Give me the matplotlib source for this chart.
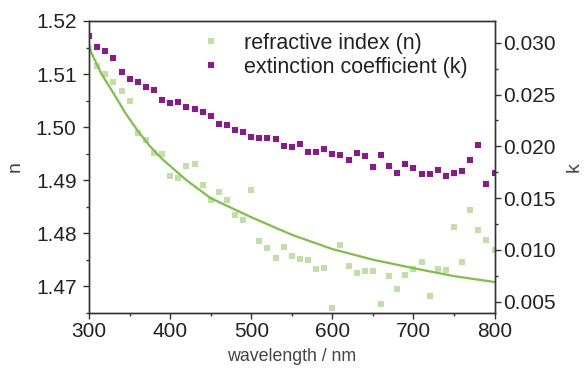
import matplotlib
matplotlib.use('Agg')
import matplotlib.pyplot as plt
from matplotlib.ticker import MultipleLocator

plt.rcParams['font.family'] = ['Liberation Sans', 'DejaVu Sans']

# wavelength grid of the measured points (nm)
wl = list(range(300, 801, 10))

# refractive index n (light green squares)
n_pts = [1.5150, 1.5115, 1.5101, 1.5085, 1.5068, 1.5050, 1.4989, 1.4975, 1.4951, 1.4950,
         1.4907, 1.4904, 1.4926, 1.4931, 1.4891, 1.4863, 1.4878, 1.4863, 1.4835, 1.4825,
         1.4881, 1.4785, 1.4772, 1.4753, 1.4774, 1.4757, 1.4752, 1.4750, 1.4733, 1.4735,
         1.4659, 1.4778, 1.4739, 1.4724, 1.4728, 1.4729, 1.4666, 1.4719, 1.4695, 1.4722,
         1.4732, 1.4745, 1.4681, 1.4732, 1.4731, 1.4812, 1.4745, 1.4843, 1.4806, 1.4788,
         1.4768]

# extinction coefficient k (purple squares)
k_pts = [0.0307, 0.0296, 0.0292, 0.0285, 0.0272, 0.0265, 0.0262, 0.0257, 0.0254, 0.0245,
         0.0242, 0.0243, 0.0238, 0.0236, 0.0233, 0.0229, 0.0222, 0.0221, 0.0216, 0.0214,
         0.0209, 0.0208, 0.0208, 0.0207, 0.0200, 0.0199, 0.0202, 0.0195, 0.0195, 0.0197,
         0.0193, 0.0192, 0.0187, 0.0194, 0.0191, 0.0180, 0.0192, 0.0181, 0.0174, 0.0183,
         0.0179, 0.0173, 0.0173, 0.0177, 0.0171, 0.0174, 0.0176, 0.0187, 0.0201, 0.0164,
         0.0174]

# fitted n curve
wl_fit = [300, 315, 330, 345, 360, 375, 390, 420, 450, 500, 550, 600, 650, 700, 750, 800]
n_fit = [1.5149, 1.5101, 1.5064, 1.5026, 1.4993, 1.4964, 1.4940, 1.4900, 1.4866, 1.4830,
         1.4797, 1.4770, 1.4750, 1.4734, 1.4719, 1.4708]

c_k = '#8e1690'
c_n = '#bfe0a6'
c_line = '#7cc142'
c_ax = '#333333'

fig = plt.figure(figsize=(5.86, 3.75), dpi=100)
ax = fig.add_axes([0.152, 0.166, 0.692, 0.778])
ax2 = ax.twinx()

ax.plot(wl, n_pts, 's', color=c_n, ms=5, mew=0, label='refractive index (n)')
ax.plot(wl_fit, n_fit, '-', color=c_line, lw=1.6)
ax2.plot(wl, k_pts, 's', color=c_k, ms=5, mew=0, label='extinction coefficient (k)')

ax.set_xlim(300, 800)
ax.set_ylim(1.465, 1.52)
ax2.set_ylim(0.00394, 0.0321)

ax.xaxis.set_major_locator(MultipleLocator(100))
ax.xaxis.set_minor_locator(MultipleLocator(50))
ax.yaxis.set_major_locator(MultipleLocator(0.01))
ax.yaxis.set_minor_locator(MultipleLocator(0.005))
ax2.yaxis.set_major_locator(MultipleLocator(0.005))
ax2.yaxis.set_minor_locator(MultipleLocator(0.0025))
ax.yaxis.set_major_formatter(plt.FormatStrFormatter('%.2f'))
ax2.yaxis.set_major_formatter(plt.FormatStrFormatter('%.3f'))

for a in (ax, ax2):
    for s in a.spines.values():
        s.set_color(c_ax)
        s.set_linewidth(1.0)
    a.tick_params(which='major', length=4, width=1, color=c_ax, labelsize=15,
                  labelcolor='#222222', pad=2)
    a.tick_params(which='minor', length=2.2, width=1, color=c_ax)
ax.tick_params(axis='x', pad=3)
ax.tick_params(axis='y', pad=5)

ax.set_xlabel('wavelength / nm', fontsize=12.8, color='#444444', labelpad=5)
ax.set_ylabel('n', fontsize=14, color='#444444', labelpad=9)
ax2.set_ylabel('k', fontsize=14, color='#444444', labelpad=7)

h1, l1 = ax.get_legend_handles_labels()
h2, l2 = ax2.get_legend_handles_labels()
leg = ax2.legend(h1 + h2, l1 + l2, loc='upper left', bbox_to_anchor=(0.252, 0.99),
                 frameon=False, fontsize=15.5, handlelength=1.0, handletextpad=1.03,
                 labelspacing=0.15, numpoints=1, borderaxespad=0)
for t in leg.get_texts():
    t.set_color('#222222')

fig.savefig('out.png', dpi=100)
